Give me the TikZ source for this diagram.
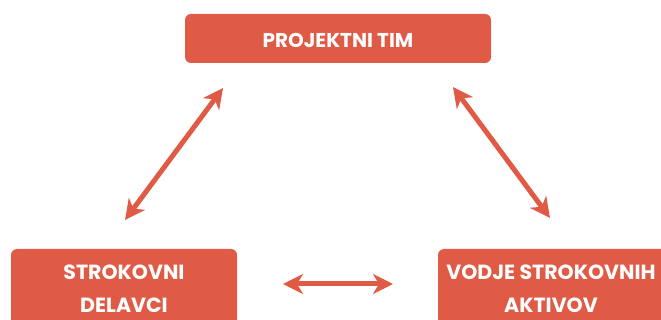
\documentclass[tikz,border=0pt]{standalone}
\usepackage{fontspec}
\setmainfont{Poppins}
\usetikzlibrary{arrows.meta}
\definecolor{boxred}{RGB}{224,91,70}
\tikzset{
  rolebox/.style={fill=boxred, draw=none, rounded corners=6pt},
  roletext/.style={text=white, font=\fontsize{20.5}{33}\selectfont\bfseries, align=center},
  link/.style={draw=boxred, line width=5pt, {Stealth[length=20pt,width=20pt,inset=6pt]}-{Stealth[length=20pt,width=20pt,inset=6pt]}}
}
\begin{document}
\begin{tikzpicture}[x=1pt,y=-1pt]
\clip (0,0) rectangle (661,320);
\fill[white] (0,0) rectangle (661,320);
\fill[rolebox] (185,14) rectangle (491,63);
\fill[rolebox] (11,249) rectangle (237,345);
\fill[rolebox] (438,249) rectangle (680,345);
\node[roletext, font=\fontsize{20}{33}\selectfont\bfseries] (top) at (338,40) {PROJEKTNI TIM};
\node[roletext] (left) at (124,289) {STROKOVNI\\DELAVCI};
\node[roletext] (right) at (551,289) {VODJE STROKOVNIH\\AKTIVOV};
\coordinate (l1) at (125,220);
\coordinate (l2) at (223,88);
\coordinate (r1) at (453,87);
\coordinate (r2) at (550,218);
\coordinate (h1) at (283,284);
\coordinate (h2) at (393,284);
\draw[link] (l1) -- (l2);
\draw[link] (r1) -- (r2);
\draw[link] (h1) -- (h2);
\end{tikzpicture}
\end{document}
